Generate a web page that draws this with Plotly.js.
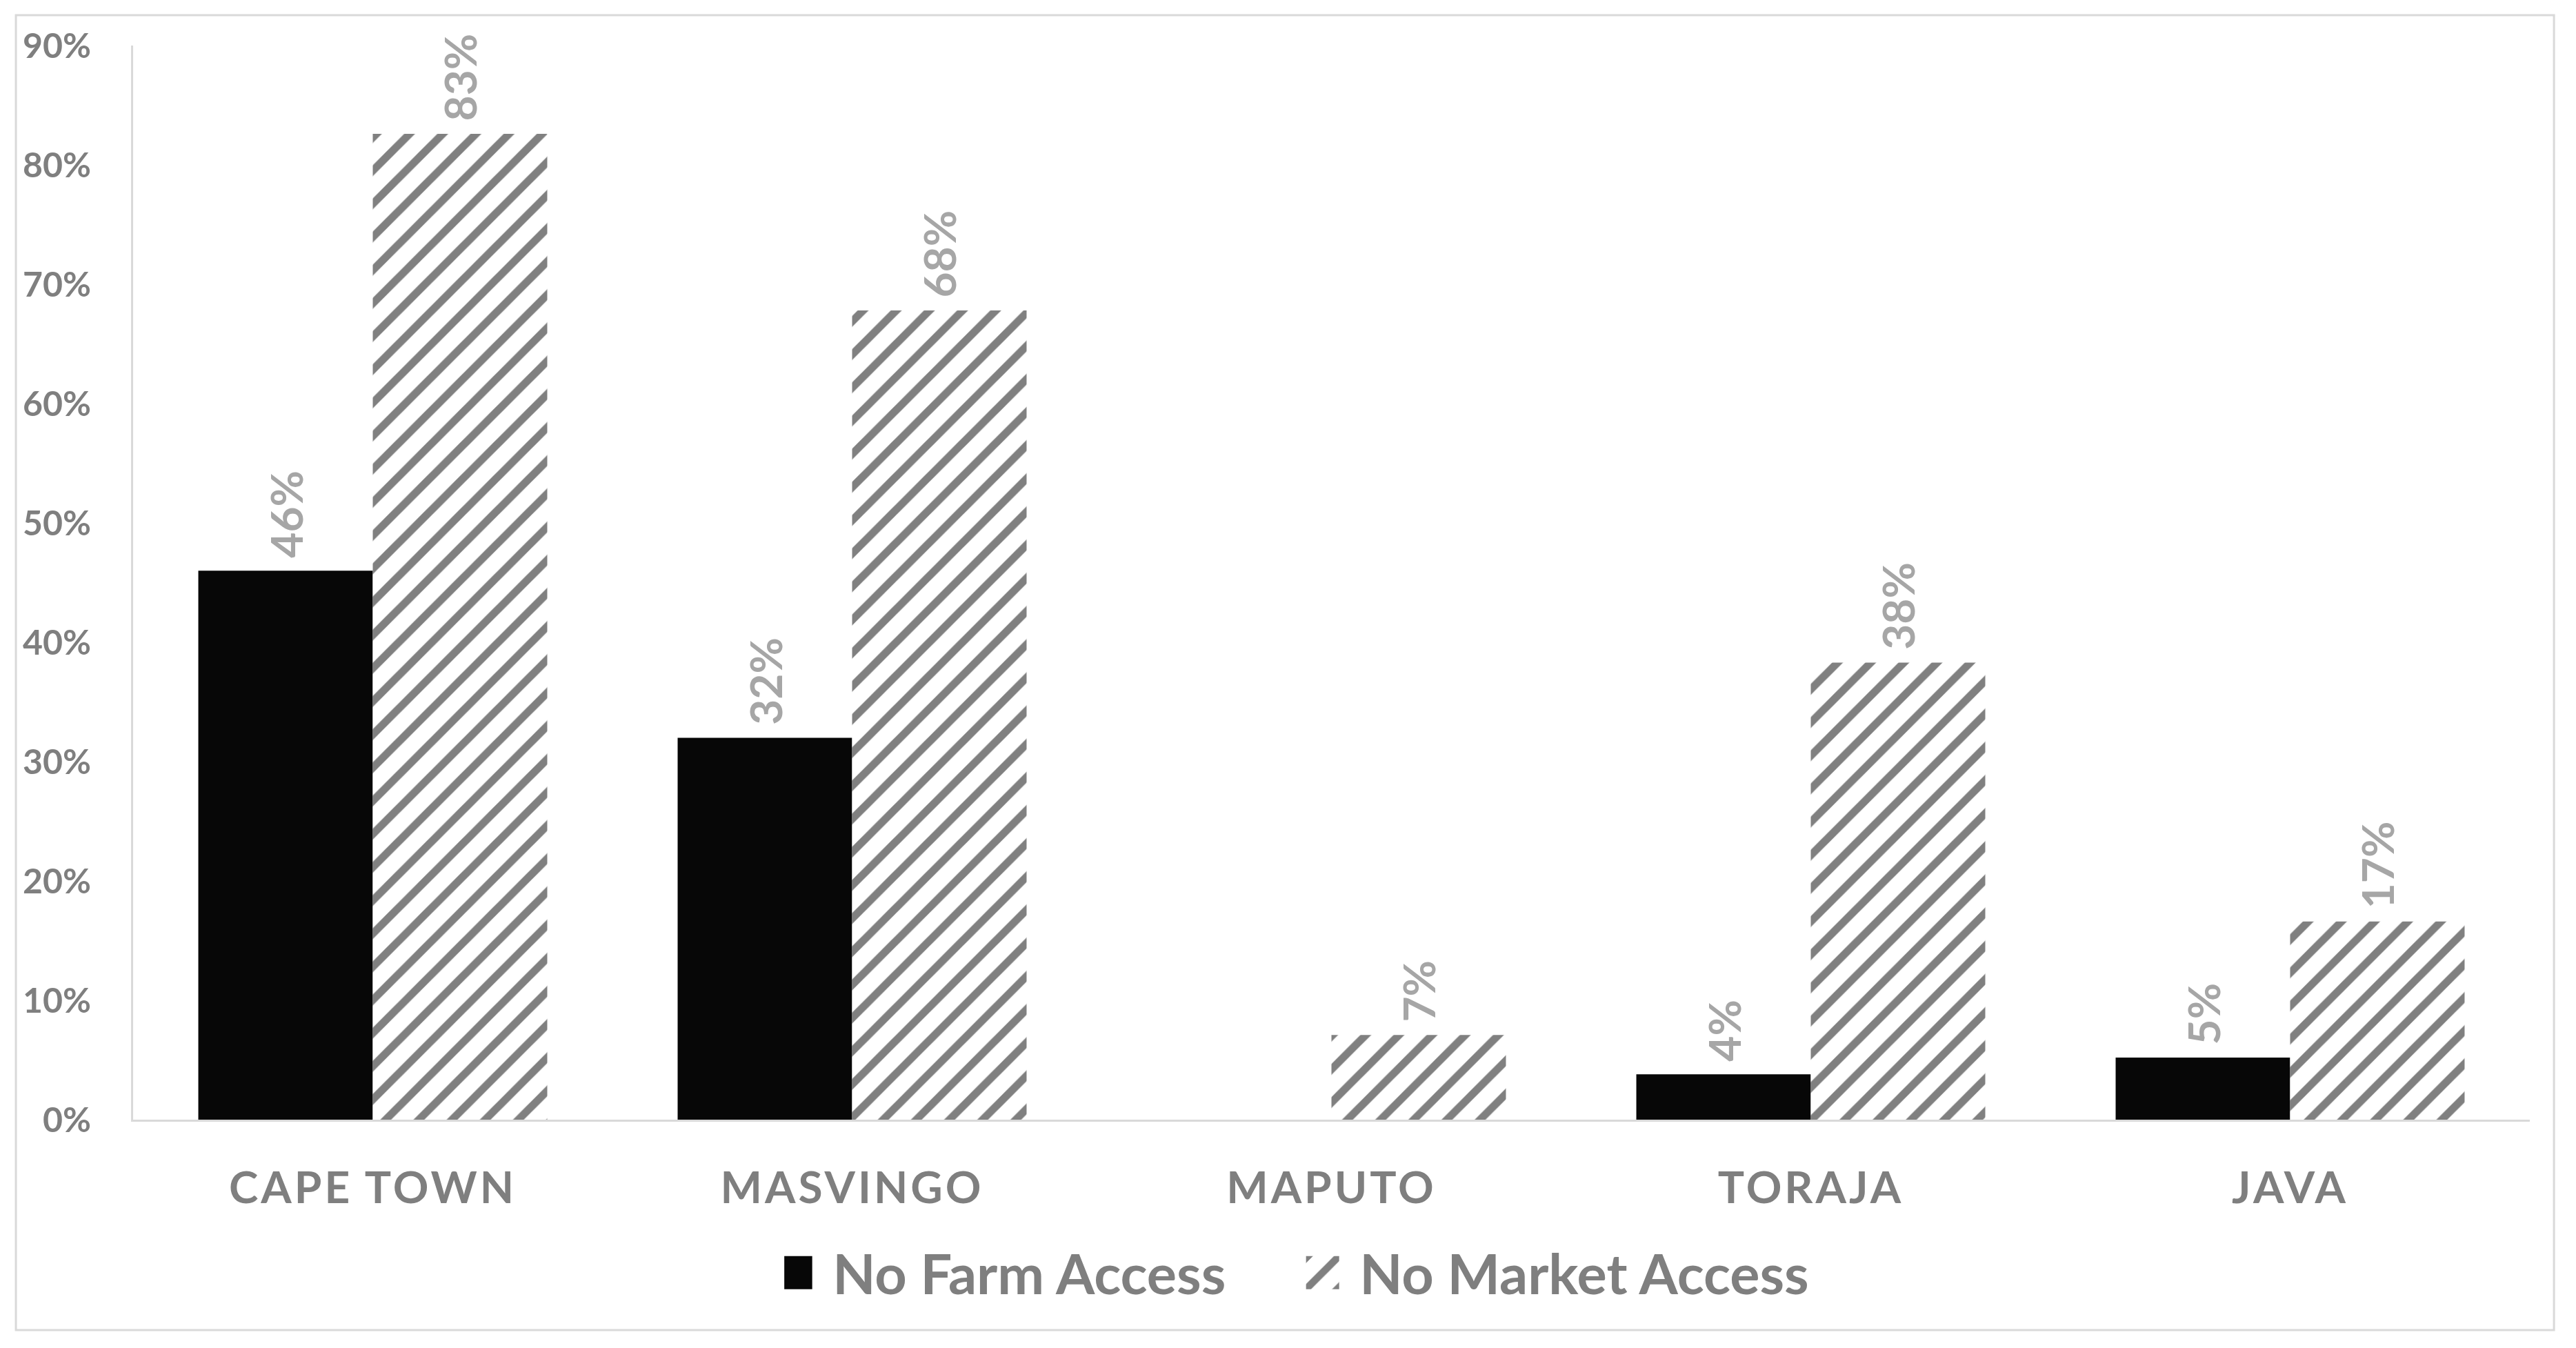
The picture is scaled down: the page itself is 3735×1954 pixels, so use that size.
<!DOCTYPE html>
<html>
<head>
<meta charset="utf-8">
<script src="https://cdn.plot.ly/plotly-3.0.1.min.js"></script>
<style>
  body { margin: 0; background: #fff; }
  #myPlot { width: 3735px; height: 1954px; }
  .xtick text { letter-spacing: 4px; }
</style>
</head>
<body>
<div id="myPlot"></div>
<script>
// Categories
var cities = ['CAPE TOWN', 'MASVINGO', 'MAPUTO', 'TORAJA', 'JAVA']

// Share of households (Maputo farm value is blank in the source)
var farmArray = [0.46, 0.32, null, 0.038, 0.052]
var marketArray = [0.826, 0.678, 0.071, 0.383, 0.166]

var yTicks = [0, 0.1, 0.2, 0.3, 0.4, 0.5, 0.6, 0.7, 0.8, 0.9]

var grey = '#7f7f7f'
var labelGrey = '#a6a6a6'
var fontName = 'Lato, "Open Sans", sans-serif'

var data = [
  {x: cities, y: farmArray, type: 'bar', name: 'No Farm Access',
   marker: {color: '#070707', line: {width: 0}},
   texttemplate: '\u00a0%{y:.0%}', textposition: 'outside', textangle: -90,
   textfont: {family: fontName, size: 64, color: labelGrey, weight: 'bold'},
   cliponaxis: false},

  {x: cities, y: marketArray, type: 'bar', name: 'No Market Access',
   marker: {color: '#ffffff', line: {width: 0},
            pattern: {shape: '/', fgcolor: '#808080', bgcolor: '#ffffff', size: 34, solidity: 0.33}},
   texttemplate: '\u00a0%{y:.0%}', textposition: 'outside', textangle: -90,
   textfont: {family: fontName, size: 64, color: labelGrey, weight: 'bold'},
   cliponaxis: false}
]

var layout = {
  width: 3735,
  height: 1954,
  margin: {l: 193, r: 67, t: 66, b: 331},
  paper_bgcolor: '#ffffff',
  plot_bgcolor: '#ffffff',
  barmode: 'group',
  bargap: 0.272,
  bargroupgap: 0,
  showlegend: true,
  legend: {
    orientation: 'h', x: 0.2717, xanchor: 'left', y: -0.1426, yanchor: 'middle',
    font: {family: fontName, size: 81, color: grey, weight: 'bold'},
    itemwidth: 60, entrywidth: 689, traceorder: 'normal'
  },
  xaxis: {
    type: 'category',
    showline: true, linecolor: '#d9d9d9', linewidth: 3,
    showgrid: false, ticks: '', ticklabelstandoff: 41,
    tickfont: {family: fontName, size: 64, color: grey, weight: 'bold'}
  },
  yaxis: {
    range: [0, 0.9], tickvals: yTicks, tickformat: '.0%',
    showline: true, linecolor: '#d9d9d9', linewidth: 3,
    showgrid: false, zeroline: false, ticks: '', ticklabelstandoff: 48,
    tickfont: {family: fontName, size: 50, color: grey, weight: 'bold'}
  },
  shapes: [
    // outer chart border
    {type: 'rect', xref: 'paper', yref: 'paper',
     x0: -0.0489, x1: 1.0101, y0: -0.1959, y1: 1.0283,
     line: {color: '#d9d9d9', width: 3}, fillcolor: 'rgba(0,0,0,0)'}
  ]
}

Plotly.newPlot('myPlot', data, layout, {staticPlot: true}).then(function () {
  // bigger legend swatches, like the original (about 49px squares)
  document.querySelectorAll('.legend .traces').forEach(function (item) {
    var pts = item.querySelector('.legendpoints')
    var txt = item.querySelector('.legendtext')
    var box = pts.getBBox()
    var cx = box.x + box.width / 2
    var cy = box.y + box.height / 2
    var textX = Number(txt.getAttribute('x'))
    if (isNaN(textX)) textX = 70
    var targetX = textX - 29 - 24.5
    pts.setAttribute('transform', 'translate(' + (targetX - 4 * cx) + ',' + (cy - 4 * cy) + ') scale(4)')
  })
})
</script>
</body>
</html>
